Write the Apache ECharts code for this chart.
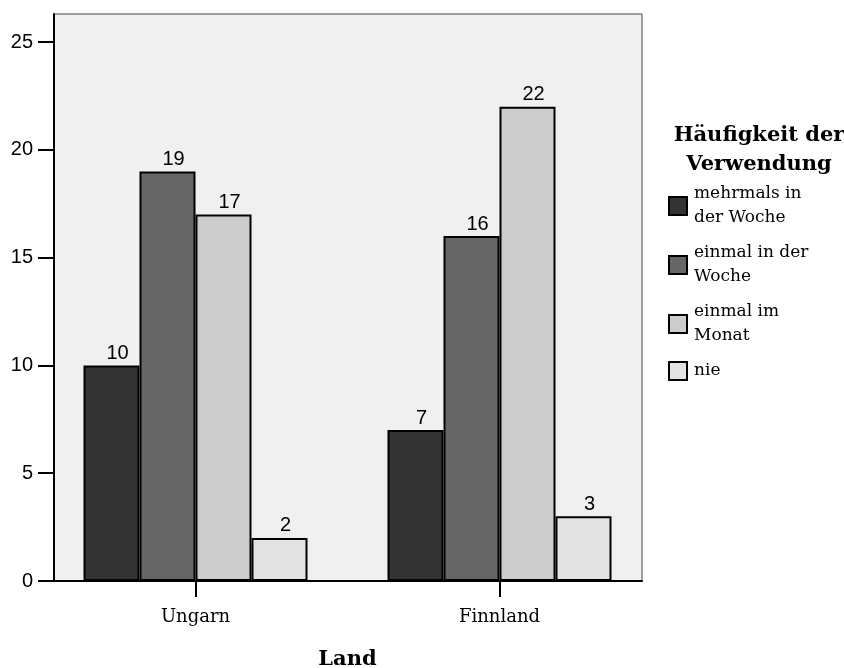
<!DOCTYPE html>
<html lang="de">
<head>
    <meta charset="UTF-8">
    <title>Häufigkeit der Verwendung nach Land</title>
    <style>
        body { margin: 0; background: #fff; }
        #chart { width: 844px; height: 668px; }
    </style>
</head>
<body>
    <div id="chart"></div>
    <script src="https://cdn.jsdelivr.net/npm/echarts@6.0.0/dist/echarts.min.js"></script>
    <script>
        // Daten
        const laender = ['Ungarn', 'Finnland'];
        const kategorien = ['mehrmals in\nder Woche', 'einmal in der\nWoche', 'einmal im\nMonat', 'nie'];
        const mehrmalsWoche = [10, 7];
        const einmalWoche = [19, 16];
        const einmalMonat = [17, 22];
        const nie = [2, 3];
        const yTicks = [0, 5, 10, 15, 20, 25];

        const farben = ['#333333', '#666666', '#cccccc', '#e3e3e3'];
        const werte = [mehrmalsWoche, einmalWoche, einmalMonat, nie];
        const yMax = 26.3;

        const chart = echarts.init(document.getElementById('chart'));

        const option = {
            animation: false,
            title: {
                text: 'Häufigkeit der\nVerwendung',
                left: 754,
                top: 116,
                textAlign: 'center',
                textStyle: {
                    fontFamily: 'DejaVu Serif',
                    fontWeight: 'bold',
                    fontSize: 21,
                    lineHeight: 29,
                    color: '#000'
                }
            },
            legend: {
                orient: 'vertical',
                left: 663,
                top: 177,
                itemWidth: 18,
                itemHeight: 18,
                itemGap: 11,
                icon: 'rect',
                selectedMode: false,
                textStyle: {
                    fontFamily: 'DejaVu Serif',
                    fontSize: 17,
                    lineHeight: 24,
                    color: '#000',
                    padding: [0, 0, 0, 2]
                },
                data: kategorien
            },
            grid: [
                // Rahmen mit Hintergrund und y-Achse
                {
                    left: 54, right: 202, top: 14, bottom: 87,
                    outerBoundsMode: 'none',
                    show: true,
                    backgroundColor: '#f0f0f0',
                    borderColor: '#444',
                    borderWidth: 1
                },
                // Balken, etwas breiter, damit die Gruppen wie im Original sitzen
                { left: 43.5, right: 192.5, top: 14, bottom: 87, outerBoundsMode: 'none' }
            ],
            xAxis: [
                {
                    gridIndex: 0,
                    type: 'value',
                    min: 0,
                    max: 1,
                    axisLine: { show: true, lineStyle: { color: '#000', width: 2 } },
                    axisTick: { show: false },
                    axisLabel: { show: false },
                    splitLine: { show: false }
                },
                {
                    gridIndex: 1,
                    type: 'category',
                    data: laender,
                    name: 'Land',
                    nameLocation: 'middle',
                    nameGap: 68,
                    nameTextStyle: {
                        fontFamily: 'DejaVu Serif',
                        fontWeight: 'bold',
                        fontSize: 21,
                        color: '#000'
                    },
                    axisLine: { show: false },
                    axisTick: { show: true, interval: 0, alignWithLabel: true, length: 16, lineStyle: { color: '#000', width: 2 } },
                    axisLabel: {
                        margin: 27,
                        fontFamily: 'DejaVu Serif',
                        fontSize: 18,
                        color: '#000'
                    }
                }
            ],
            yAxis: [
                {
                    gridIndex: 0,
                    type: 'value',
                    min: 0,
                    max: yMax,
                    interval: 5,
                    splitLine: { show: false },
                    axisLine: { show: true, lineStyle: { color: '#000', width: 2 } },
                    axisTick: { show: true, length: 16, customValues: yTicks, lineStyle: { color: '#000', width: 2 } },
                    axisLabel: {
                        margin: 21,
                        customValues: yTicks,
                        fontFamily: 'Liberation Sans',
                        fontSize: 20,
                        color: '#000'
                    }
                },
                {
                    gridIndex: 1,
                    type: 'value',
                    min: 0,
                    max: yMax,
                    show: false
                }
            ],
            series: kategorien.map((name, i) => ({
                name: name,
                type: 'bar',
                xAxisIndex: 1,
                yAxisIndex: 1,
                data: werte[i],
                barWidth: 56,
                barGap: '0%',
                itemStyle: { color: farben[i], borderColor: '#000', borderWidth: 2 },
                label: {
                    show: true,
                    position: 'top',
                    distance: 2,
                    offset: [6, 0],
                    fontFamily: 'Liberation Sans',
                    fontSize: 20,
                    color: '#000'
                }
            }))
        };

        chart.setOption(option);
    </script>
</body>
</html>
